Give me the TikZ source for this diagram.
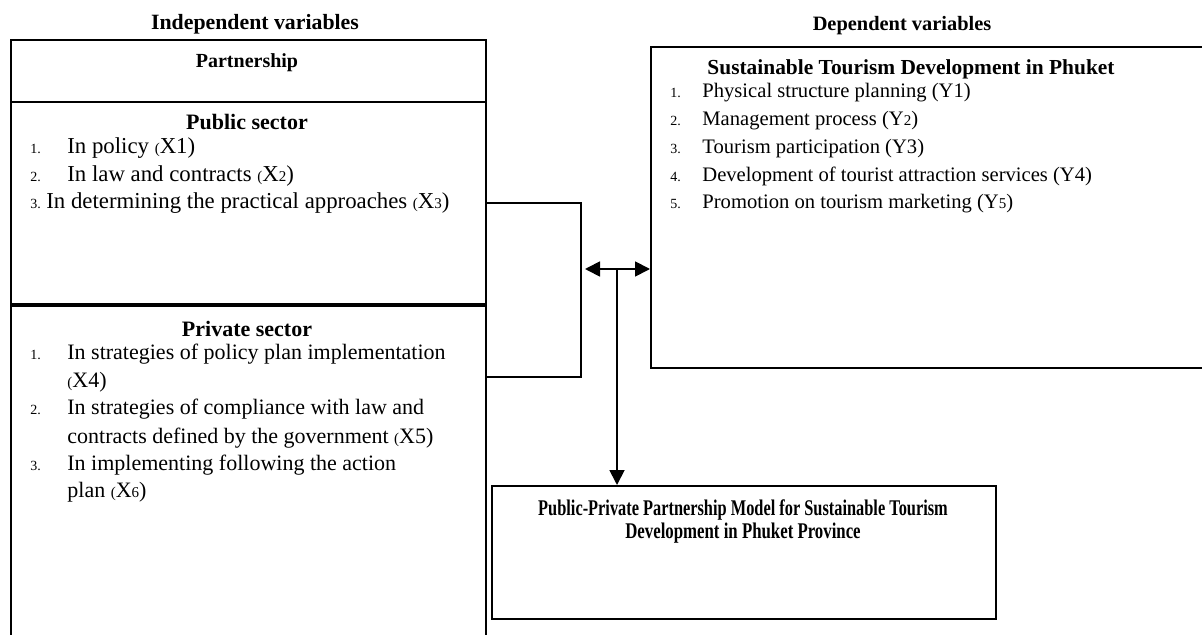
\documentclass[tikz,border=0pt]{standalone}
\usepackage{fontspec}
\setmainfont{Liberation Serif}
\usetikzlibrary{arrows.meta}
\newcommand{\sm}[1]{{\fontsize{7.5}{8}\selectfont #1}}
\begin{document}
\begin{tikzpicture}[x=0.5pt,y=-0.5pt,
  box/.style={draw, line width=0.9pt, inner sep=0, anchor=north west},
  txt/.style={anchor=base west, inner sep=0, font=\fontsize{11}{12}\selectfont},
  pubtxt/.style={txt, font=\fontsize{11.4}{12}\selectfont},
  deptxt/.style={txt, font=\fontsize{10.3}{12}\selectfont},
  num/.style={anchor=base west, inner sep=0, font=\fontsize{7}{8}\selectfont},
  hd/.style={anchor=base, inner sep=0, font=\bfseries\fontsize{11}{12}\selectfont},
  top/.style={anchor=base, inner sep=0, font=\bfseries\fontsize{10.5}{12}\selectfont},
  mdl/.style={anchor=base, inner sep=0, font=\bfseries\fontsize{11.2}{12}\selectfont},
  conn/.style={line width=0.9pt},
  tri/.tip={Triangle[length=7.5pt,width=7.5pt]}]
\useasboundingbox (0,0) rectangle (1202,635);
\clip (0,0) rectangle (1202,635);
% boxes
\node[box, minimum width=237.5pt, minimum height=31pt] (part) at (10,39) {};
\node[box, minimum width=237.5pt, minimum height=102pt] (pub) at (10,101) {};
\node[box, minimum width=237.5pt, minimum height=177.5pt] (priv) at (10,305) {};
\draw[line width=2pt] (priv.north west) -- (priv.north east);
\node[box, minimum width=282.5pt, minimum height=160.5pt] (dep) at (650,46) {};
\node[box, minimum width=252pt, minimum height=66.5pt] (model) at (491,485) {};
% titles
\node[top, font=\bfseries\fontsize{10.9}{12}\selectfont] (tind) at (255,30) {Independent variables};
\node[top, font=\bfseries\fontsize{10.2}{12}\selectfont] (tdep) at (902,31) {Dependent variables};
\node[hd, font=\bfseries\fontsize{10}{12}\selectfont] (hpart) at (247,68) {Partnership};
% public sector
\node[hd] (hpub) at (247,130) {Public sector};
\node[num] (n1) at (30,154) {1.};
\node[pubtxt] (x1) at (67,154) {In policy \sm{(}X1)};
\node[num] (n2) at (30,181.5) {2.};
\node[pubtxt] (x2) at (67,181.5) {In law and contracts \sm{(}X\sm{2})};
\node[num] (n3) at (30,209) {3.};
\node[pubtxt] (x3) at (46,209) {In determining the practical approaches \sm{(}X\sm{3})};
% private sector
\node[hd] (hpriv) at (247,336.5) {Private sector};
\node[num] (p1) at (30,359) {1.};
\node[txt] (x4) at (67,359) {In strategies of policy plan implementation};
\node[txt] (x4b) at (67,387) {\sm{(}X4)};
\node[num] (p2) at (30,415) {2.};
\node[txt] (x5) at (67,415) {In strategies of compliance with law and};
\node[txt] (x5b) at (67,443) {contracts defined by the government \sm{(}X5)};
\node[num] (p3) at (30,470) {3.};
\node[txt] (x6) at (67,470) {In implementing following the action};
\node[txt] (x6b) at (67,497) {plan \sm{(}X\sm{6})};
% dependent
\node[hd, font=\bfseries\fontsize{10.7}{12}\selectfont] (hdep) at (911,75) {Sustainable Tourism Development in Phuket};
\node[num] (d1) at (670,98) {1.};
\node[deptxt] (y1) at (702,98) {Physical structure planning (Y1)};
\node[num] (d2) at (670,126) {2.};
\node[deptxt] (y2) at (702,126) {Management process (Y\sm{2})};
\node[num] (d3) at (670,154) {3.};
\node[deptxt] (y3) at (702,154) {Tourism participation (Y3)};
\node[num] (d4) at (670,182) {4.};
\node[deptxt] (y4) at (702,182) {Development of tourist attraction services (Y4)};
\node[num] (d5) at (670,209) {5.};
\node[deptxt] (y5) at (702,209) {Promotion on tourism marketing (Y\sm{5})};
% model
\node[mdl] (m1) at (743,515) {\scalebox{0.73}[1]{Public-Private Partnership Model for Sustainable Tourism}};
\node[mdl] (m2) at (743,538) {\scalebox{0.75}[1]{Development in Phuket Province}};
% connectors
\coordinate (b1) at (581,203);
\coordinate (b2) at (581,377);
\draw[conn] (pub.east |- b1) -- (b1) -- (b2) -- (priv.east |- b2);
\coordinate (a0) at (585,269);
\coordinate (a1) at (617,269);
\draw[conn, {tri}-{tri}] (a0) -- (dep.west |- a0);
\draw[conn, -{tri}] (a1) -- (model.north -| a1);
\end{tikzpicture}
\end{document}
